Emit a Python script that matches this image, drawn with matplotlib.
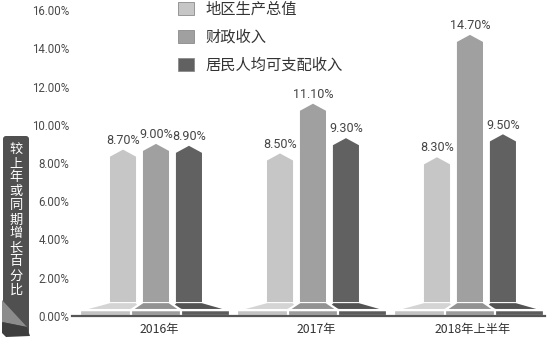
import matplotlib
matplotlib.use("Agg")
import matplotlib.pyplot as plt
from matplotlib.patches import Polygon, Patch, FancyBboxPatch
import numpy as np

plt.rcParams['font.family'] = ['Noto Sans CJK SC', 'DejaVu Sans']

# ---- data ----
categories = ["2016年", "2017年", "2018年上半年"]
series_names = ["地区生产总值", "财政收入", "居民人均可支配收入"]
gdp = [8.70, 8.50, 8.30]
fiscal = [9.00, 11.10, 14.70]
income = [8.90, 9.30, 9.50]
y_ticks = [0, 2, 4, 6, 8, 10, 12, 14, 16]
y_label = "较上年或同期增长百分比"

series = [gdp, fiscal, income]
bar_colors = ["#c6c6c6", "#a0a0a0", "#616161"]
slant_colors = ["#d4d4d4", "#929292", "#535353"]
band_colors = ["#c2c2c2", "#9c9c9c", "#5c5c5c"]

W, H = 550, 339
fig = plt.figure(figsize=(W / 100, H / 100), dpi=100)
fig.patch.set_facecolor("white")

ax = fig.add_axes([72 / W, (H - 316) / H, 473 / W, 306 / H])
ax.set_xlim(-0.535, 2.478)
ax.set_ylim(0, 16)

offsets = [-0.21, 0.0, 0.21]
bw = 0.166
ped_top = 0.73
ped_mid = 0.31
tip = 0.37
# pedestal extensions (left, right) per series
ext = [(0.19, 0.05), (0.076, 0.076), (0.05, 0.18)]

x = np.arange(len(categories))
draw_order = [0, 2, 1]
for i in x:
    for s in draw_order:
        xc = i + offsets[s]
        x0, x1 = xc - bw / 2, xc + bw / 2
        el, er = ext[s]
        z = 2 + s * 0.1 + (0.5 if s == 1 else 0)
        band = Polygon([(x0 - el, 0), (x0 - el, ped_mid), (x1 + er, ped_mid), (x1 + er, 0)],
                       closed=True, facecolor=band_colors[s], edgecolor="white", lw=1.6, zorder=z)
        ax.add_patch(band)
        slant = Polygon([(x0 - el, ped_mid), (x0, ped_top), (x1, ped_top), (x1 + er, ped_mid)],
                        closed=True, facecolor=slant_colors[s], edgecolor="white", lw=1.6, zorder=z)
        ax.add_patch(slant)
    for s in range(3):
        xc = i + offsets[s]
        x0, x1 = xc - bw / 2, xc + bw / 2
        v = series[s][i]
        bar = Polygon([(x0, ped_top), (x0, v - tip), (xc, v), (x1, v - tip), (x1, ped_top)],
                      closed=True, facecolor=bar_colors[s], edgecolor="none", zorder=4)
        ax.add_patch(bar)
        ax.annotate(f"{v:.2f}%", (xc, v), xytext=(0, 2), textcoords="offset points",
                    ha="center", va="bottom", fontsize=9, color="#444444",
                    family=["Roboto", "DejaVu Sans"], zorder=5)

for sp in ["top", "right", "left"]:
    ax.spines[sp].set_visible(False)
ax.spines["bottom"].set_color("#555555")
ax.spines["bottom"].set_linewidth(1.6)
ax.spines["bottom"].set_zorder(6)

ax.set_yticks(y_ticks)
ax.set_yticklabels([f"{t:.2f}%" for t in y_ticks], family=["Roboto", "DejaVu Sans"],
                   fontsize=8.3, color="#4a4a4a")
ax.tick_params(axis="y", length=0, pad=2)
ax.set_xticks(x + 0.02)
ax.set_xticklabels(categories, fontsize=8.8, color="#333333")
ax.tick_params(axis="x", length=0, pad=5)
ax.patch.set_alpha(0)

# legend
handles = [Patch(facecolor=c, edgecolor="#8a8a8a", lw=0.6) for c in bar_colors]
fig.legend(handles, series_names, loc="upper left", bbox_to_anchor=(167 / W, 1 + 10 / H),
           frameon=False, fontsize=11, handlelength=1.05, handleheight=1.0,
           handletextpad=0.75, labelspacing=0.72, borderpad=0.2, labelcolor="#333333")

# left label box
deco = fig.add_axes([0, 0, 1, 1], zorder=-1)
deco.set_xlim(0, W)
deco.set_ylim(H, 0)
deco.axis("off")
box = FancyBboxPatch((3, 136), 26, 198, boxstyle="round,pad=0,rounding_size=3",
                     facecolor="#505050", edgecolor="none")
deco.add_patch(box)
fold = Polygon([(2, 300), (27, 327), (2, 322)], closed=True, facecolor="#8c8c8c", edgecolor="none")
deco.add_patch(fold)
shadow = Polygon([(2, 322), (27, 327), (30, 336), (6, 337), (2, 333)], closed=True,
                 facecolor="#3e3e3e", edgecolor="none")
deco.add_patch(shadow)
for k, ch in enumerate(y_label):
    deco.text(16, 150 + k * 14, ch, ha="center", va="center", color="white", fontsize=9.5)

fig.savefig("out.png", dpi=100, facecolor="white")
